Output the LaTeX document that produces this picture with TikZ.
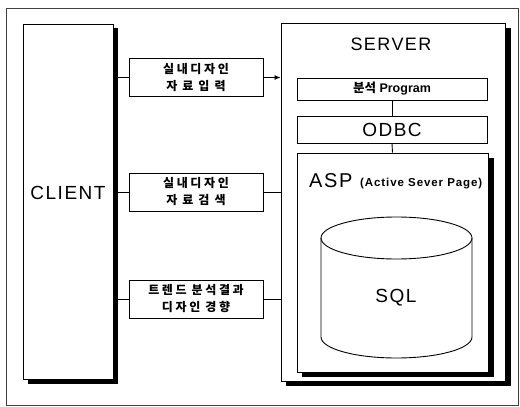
\documentclass[tikz,border=0pt]{standalone}
\usepackage{fontspec}
\setmainfont{Liberation Sans}
\newfontfamily\kr[LetterSpace=22]{Noto Sans CJK KR}
\newfontfamily\krplain{Noto Sans CJK KR}
\newfontfamily\spacedsans[LetterSpace=8]{Liberation Sans}
\usetikzlibrary{arrows.meta}
% fixed gap between Korean words
\newcommand\kgap{\hspace{5pt}}
\tikzset{
  box/.style={draw, line width=0.9pt, fill=white, inner sep=0pt, anchor=center},
  labelbox/.style={box, minimum width=134pt, minimum height=38pt, align=center,
    font=\kr\fontsize{12}{17}\selectfont\bfseries},
  shade/.style={fill=black, draw=none},
  link/.style={line width=0.9pt},
}
\begin{document}
\begin{tikzpicture}[x=1pt, y=-1pt]
  \useasboundingbox (0,0) rectangle (520,407);
  % outer frame
  \draw[line width=0.8pt, black!75] (6,8) rectangle (518,405);

  % client with shadow
  \fill[shade] (28,28) rectangle (118,384);
  \node[box, minimum width=90pt, minimum height=355pt] (client) at (68,201.5) {};
  \node[font=\spacedsans\fontsize{19}{19}\selectfont] (clientlbl) at (68,193) {CLIENT};

  % server with shadow
  \fill[shade] (286,28) rectangle (511,386);
  \node[box, minimum width=224pt, minimum height=358pt] (server) at (393,202) {};
  \node[font=\spacedsans\fontsize{18}{18}\selectfont] (serverlbl) at (391,44) {SERVER};

  % inner layers
  \node[box, minimum width=190pt, minimum height=22pt,
        font=\fontsize{12.5}{12.5}\selectfont\bfseries] (prog) at (392,89)
        {{\krplain 분석} Program};
  \node[box, minimum width=190pt, minimum height=27pt,
        font=\spacedsans\fontsize{19}{19}\selectfont] (odbc) at (392,129.5) {ODBC};
  \fill[shade] (302,158) rectangle (494,376.5);
  \node[box, minimum width=191pt, minimum height=219pt] (asp) at (392.5,262.5) {};
  \node[anchor=base west, inner sep=0pt, font=\spacedsans\fontsize{20}{20}\selectfont]
        (asplbl) at (309,187) {ASP};
  \node[anchor=base west, inner sep=0pt, font=\spacedsans\fontsize{11.5}{11.5}\selectfont\bfseries]
        (asplong) at (360,186) {(Active Sever Page)};

  % database cylinder
  \draw[line width=0.9pt] (396.5,238) ellipse [x radius=75.5, y radius=21];
  \draw[line width=0.9pt] (321,238) -- (321,337)
        arc[start angle=180, end angle=0, x radius=75.5, y radius=21] -- (472,238);
  \node[font=\spacedsans\fontsize{19}{19}\selectfont] (sql) at (396,298) {SQL};

  % request boxes
  \node[labelbox] (in) at (196,77.5) {실내디자인\\자\kgap 료\kgap 입\kgap 력};
  \node[labelbox] (find) at (196,192) {실내디자인\\자\kgap 료\kgap 검\kgap 색};
  \node[labelbox] (trend) at (196,299) {트렌드\kgap 분석결과\\디자인\kgap 경향};

  % connectors
  \draw[link] (client.east |- in.west) -- (in.west);
  \draw[link] (client.east |- find.west) -- (find.west);
  \draw[link] (client.east |- trend.west) -- (trend.west);
  \draw[link, -{Latex[length=6pt, width=5pt]}] (in.east) -- (in.east -| server.west);
  \draw[link] (find.east) -- (find.east -| server.west);
  \draw[link] (trend.east) -- (trend.east -| server.west);
  \draw[link] (prog.south) -- (odbc.north);
  \draw[link] (odbc.south) -- (asp.north);
\end{tikzpicture}
\end{document}
